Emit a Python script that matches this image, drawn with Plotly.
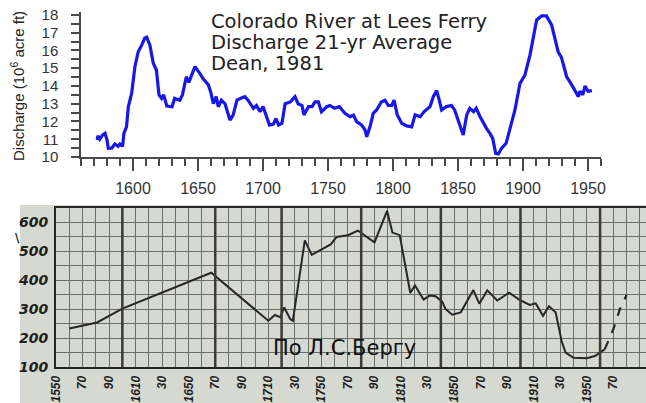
import plotly.graph_objects as go

W, H = 646, 403

# --- top panel: Dean (1981), 21-yr running mean of Colorado River discharge at Lees Ferry
dean_year = [1572.5, 1573, 1574.5, 1576.7, 1578.5, 1580, 1581, 1583.6, 1586, 1588.5, 1590, 1592, 1593,
             1595, 1596.4, 1599, 1601.5, 1604, 1606.7, 1609, 1610.5, 1613, 1615.6, 1618, 1620, 1622,
             1623.6, 1626, 1630, 1632, 1636, 1638, 1641, 1643, 1645, 1647.7, 1651.5, 1654, 1658, 1660,
             1661.8, 1664, 1665.6, 1668, 1670.8, 1674.6, 1677, 1680, 1682.6, 1686, 1688.5, 1692.6, 1695,
             1697.7, 1700, 1702.8, 1705, 1708, 1710, 1712, 1714.6, 1717, 1721, 1724.6, 1727, 1730,
             1731.5, 1735, 1737.7, 1740, 1742.6, 1745, 1749, 1751.5, 1755, 1758.7, 1763, 1767, 1769.6,
             1772, 1776, 1778.5, 1779.8, 1782.3, 1784.8, 1787.4, 1791, 1793.8, 1796.4, 1799, 1800.8,
             1803.3, 1806.7, 1810.5, 1814.4, 1817, 1821, 1823.8, 1828.5, 1831, 1833.6, 1835.6, 1837.4,
             1841, 1845, 1847.4, 1851, 1854, 1856.7, 1859, 1862, 1864, 1867, 1869, 1872, 1874.6, 1876.7,
             1879, 1881, 1883.6, 1887, 1890, 1893.8, 1897.7, 1901.5, 1905.4, 1908, 1910.5, 1914.4, 1918,
             1922, 1924.6, 1927, 1929.6, 1933.6, 1937.5, 1940, 1942.6, 1943.8, 1946, 1947.7, 1950, 1953]
dean_q = [10.96, 11.2, 11.0, 11.24, 11.33, 10.96, 10.49, 10.5, 10.73, 10.6, 10.73, 10.6, 11.33,
          11.7, 12.83, 13.6, 15.1, 15.93, 16.3, 16.69, 16.75, 16.3, 15.28, 14.9, 13.5, 13.3,
          13.5, 12.87, 12.83, 13.3, 13.2, 13.5, 14.52, 14.2, 14.6, 15.09, 14.7, 14.4, 14.06, 13.6,
          13.0, 13.4, 12.83, 13.2, 13.0, 12.08, 12.36, 13.2, 13.3, 13.4, 13.2, 12.74, 12.9,
          12.55, 12.84, 12.27, 11.8, 11.85, 12.17, 11.8, 11.9, 13.0, 13.1, 13.4, 13.0, 12.9,
          12.37, 12.84, 12.84, 13.1, 13.1, 12.55, 12.83, 12.9, 12.74, 12.84, 12.46, 12.27, 12.36,
          11.99, 11.8, 11.52, 11.14, 11.7, 12.46, 12.65, 13.1, 13.2, 12.9, 12.9, 13.2,
          12.37, 11.9, 11.75, 11.7, 12.37, 12.27, 12.55, 12.84, 13.4, 13.74, 13.2, 12.65,
          12.84, 12.9, 12.65, 11.9, 11.24, 12.37, 12.74, 12.55, 12.74, 12.27, 11.99, 11.6, 11.33, 11.05,
          10.2, 10.17, 10.49, 10.77, 11.6, 12.65, 14.15, 14.62, 15.75, 16.78, 17.72, 17.95, 17.95,
          17.44, 16.6, 15.93, 15.6, 14.52, 14.06, 13.7, 13.4, 13.7, 13.5, 14.0, 13.7, 13.74]
title_lines = ["Colorado River at Lees Ferry", "Discharge 21-yr Average", "Dean, 1981"]

# --- bottom panel: scanned graph after L.S. Berg
berg_year = [1560, 1581, 1600, 1667, 1710, 1715, 1719, 1722, 1726.5, 1728.5, 1737.5, 1742.7, 1757,
             1761.5, 1770, 1777.5, 1790, 1799.5, 1803.5, 1809, 1817, 1820.5, 1827, 1831.5, 1836, 1841,
             1843.5, 1848.5, 1855, 1864.5, 1869, 1875, 1882.5, 1891.5, 1899, 1907, 1911.5, 1917,
             1921.5, 1926.5, 1931, 1934, 1940, 1950, 1956, 1963.5]
berg_val = [233, 254, 302, 426, 260, 280, 272, 306, 266, 260, 538, 488, 524,
            550, 556, 572, 531, 640, 565, 556, 356, 382, 333, 347, 345, 326,
            301, 281, 289, 366, 319, 365, 330, 357, 333, 315, 320, 277,
            310, 289, 190, 150, 132, 130, 138, 161]
berg_dash_year = [1963.5, 1970, 1975, 1980]
berg_dash_val = [161, 231, 301, 349]
berg_xticks = list(range(1550, 2000, 20))
berg_xlabels = ["1550", "70", "90", "1610", "30", "1650", "70", "90", "1710", "30", "1750", "70",
                "90", "1810", "30", "1850", "70", "90", "1910", "30", "1950", "70", "90"]
berg_yticks = [100, 200, 300, 400, 500, 600]
heavy_years = [1600, 1670, 1720, 1780, 1840, 1900, 1960]
berg_note = "По Л.С.Бергу"


def fx(px):
    return px / W


def fy(py):
    return 1 - py / H


paper_col = "#d6d9d0"
grid_col = "#6a6c68"
ink = "#262626"

fig = go.Figure()
fig.add_trace(go.Scatter(x=dean_year, y=dean_q, mode="lines", xaxis="x", yaxis="y",
                         line=dict(color="#1717e8", width=3.2), showlegend=False))
fig.add_trace(go.Scatter(x=berg_year, y=berg_val, mode="lines", xaxis="x2", yaxis="y2",
                         line=dict(color=ink, width=2), showlegend=False))
fig.add_trace(go.Scatter(x=berg_dash_year, y=berg_dash_val, mode="lines", xaxis="x2", yaxis="y2",
                         line=dict(color=ink, width=2.2, dash="dash"), showlegend=False))

axcol = "#4a4a4a"
top_font = dict(family="Liberation Sans, Arial", color="#333333")
bot_font = dict(color="#1e1e1e", weight="bold", style="italic")

fig.update_layout(
    width=W, height=H, margin=dict(l=0, r=0, t=0, b=0, autoexpand=False),
    paper_bgcolor="white", plot_bgcolor="white",
    xaxis=dict(domain=[fx(81), fx(601)], range=[1560, 1960], anchor="y", automargin=False,
               showgrid=False, zeroline=False, showline=True, linecolor=axcol, linewidth=1.5,
               tick0=1600, dtick=50, ticks="outside", ticklen=12, tickwidth=1.5, tickcolor=axcol,
               minor=dict(dtick=10, tick0=1560, ticks="outside", ticklen=7, tickwidth=1.5, tickcolor=axcol),
               tickfont=dict(size=16, **top_font), ticklabelstandoff=4),
    yaxis=dict(domain=[fy(157), fy(12.3)], range=[10, 18.15], anchor="x", automargin=False,
               showgrid=False, zeroline=False, showline=True, linecolor=axcol, linewidth=1.5,
               tick0=10, dtick=1, ticks="outside", ticklen=8, tickwidth=1.5, tickcolor=axcol,
               minor=dict(dtick=0.5, tick0=10, ticks="outside", ticklen=8, tickwidth=1.5, tickcolor=axcol),
               tickfont=dict(size=15, **top_font), ticklabelstandoff=10),
    xaxis2=dict(domain=[fx(56), 1.0], range=[1550, 1550 + (646 - 56) / 1.327], anchor="y2",
                automargin=False,
                tickmode="array", tickvals=berg_xticks, ticktext=berg_xlabels, tickangle=-90,
                ticks="", showgrid=True, gridcolor=grid_col, gridwidth=1,
                minor=dict(tick0=1550, dtick=10, showgrid=True, gridcolor=grid_col, gridwidth=1),
                zeroline=False, showline=True, linecolor=ink, linewidth=2, mirror=True,
                tickfont=dict(size=12, family="Liberation Sans, Arial", **bot_font), ticklabelstandoff=2),
    yaxis2=dict(domain=[fy(367), fy(208)], range=[100, 650], anchor="x2", automargin=False,
                tickmode="array", tickvals=berg_yticks, ticktext=[str(v) for v in berg_yticks],
                ticks="", showgrid=True, gridcolor=grid_col, gridwidth=1,
                minor=dict(tick0=100, dtick=50, showgrid=True, gridcolor=grid_col, gridwidth=1),
                zeroline=False, showline=True, linecolor=ink, linewidth=2,
                tickfont=dict(size=14, family="DejaVu Sans", **bot_font), ticklabelstandoff=3),
)

# scanned paper behind the lower graph
fig.add_shape(type="rect", xref="paper", yref="paper", x0=fx(20), x1=1, y0=0, y1=fy(205),
              fillcolor=paper_col, line=dict(width=0), layer="below")
# heavier grid lines of the scanned sheet
for yr in heavy_years:
    fig.add_shape(type="line", xref="x2", yref="y2", x0=yr, x1=yr, y0=100, y1=650,
                  line=dict(color="#3a3a3a", width=2.5), layer="above")

for i, line in enumerate(title_lines):
    fig.add_annotation(xref="paper", yref="paper", x=fx(209), y=fy(22 + i * 20.5),
                       xanchor="left", yanchor="middle", showarrow=False, text=line,
                       font=dict(family="DejaVu Sans", size=19.5, color="#222222"))

fig.add_annotation(xref="paper", yref="paper", x=fx(17), y=fy(86), textangle=-90,
                   xanchor="center", yanchor="middle", showarrow=False,
                   text="Discharge (10<sup>6</sup> acre ft)",
                   font=dict(family="Liberation Sans, Arial", size=15, color="#222222"))

fig.add_annotation(xref="paper", yref="paper", x=fx(271), y=fy(348),
                   xanchor="left", yanchor="middle", showarrow=False, text=berg_note,
                   font=dict(family="DejaVu Sans", size=21, color="#111111"))

# stray pen mark left of the scanned axis
fig.add_annotation(xref="paper", yref="paper", x=fx(17), y=fy(238),
                   xanchor="center", yanchor="middle", showarrow=False, text="\\",
                   font=dict(family="DejaVu Sans", size=12, color="#222222", weight="bold"))

# page body has a default 8px margin; drop it so the figure fills the window
fig.write_html("out.html", config={"displayModeBar": False},
               post_script="document.body.style.margin='0px';")
